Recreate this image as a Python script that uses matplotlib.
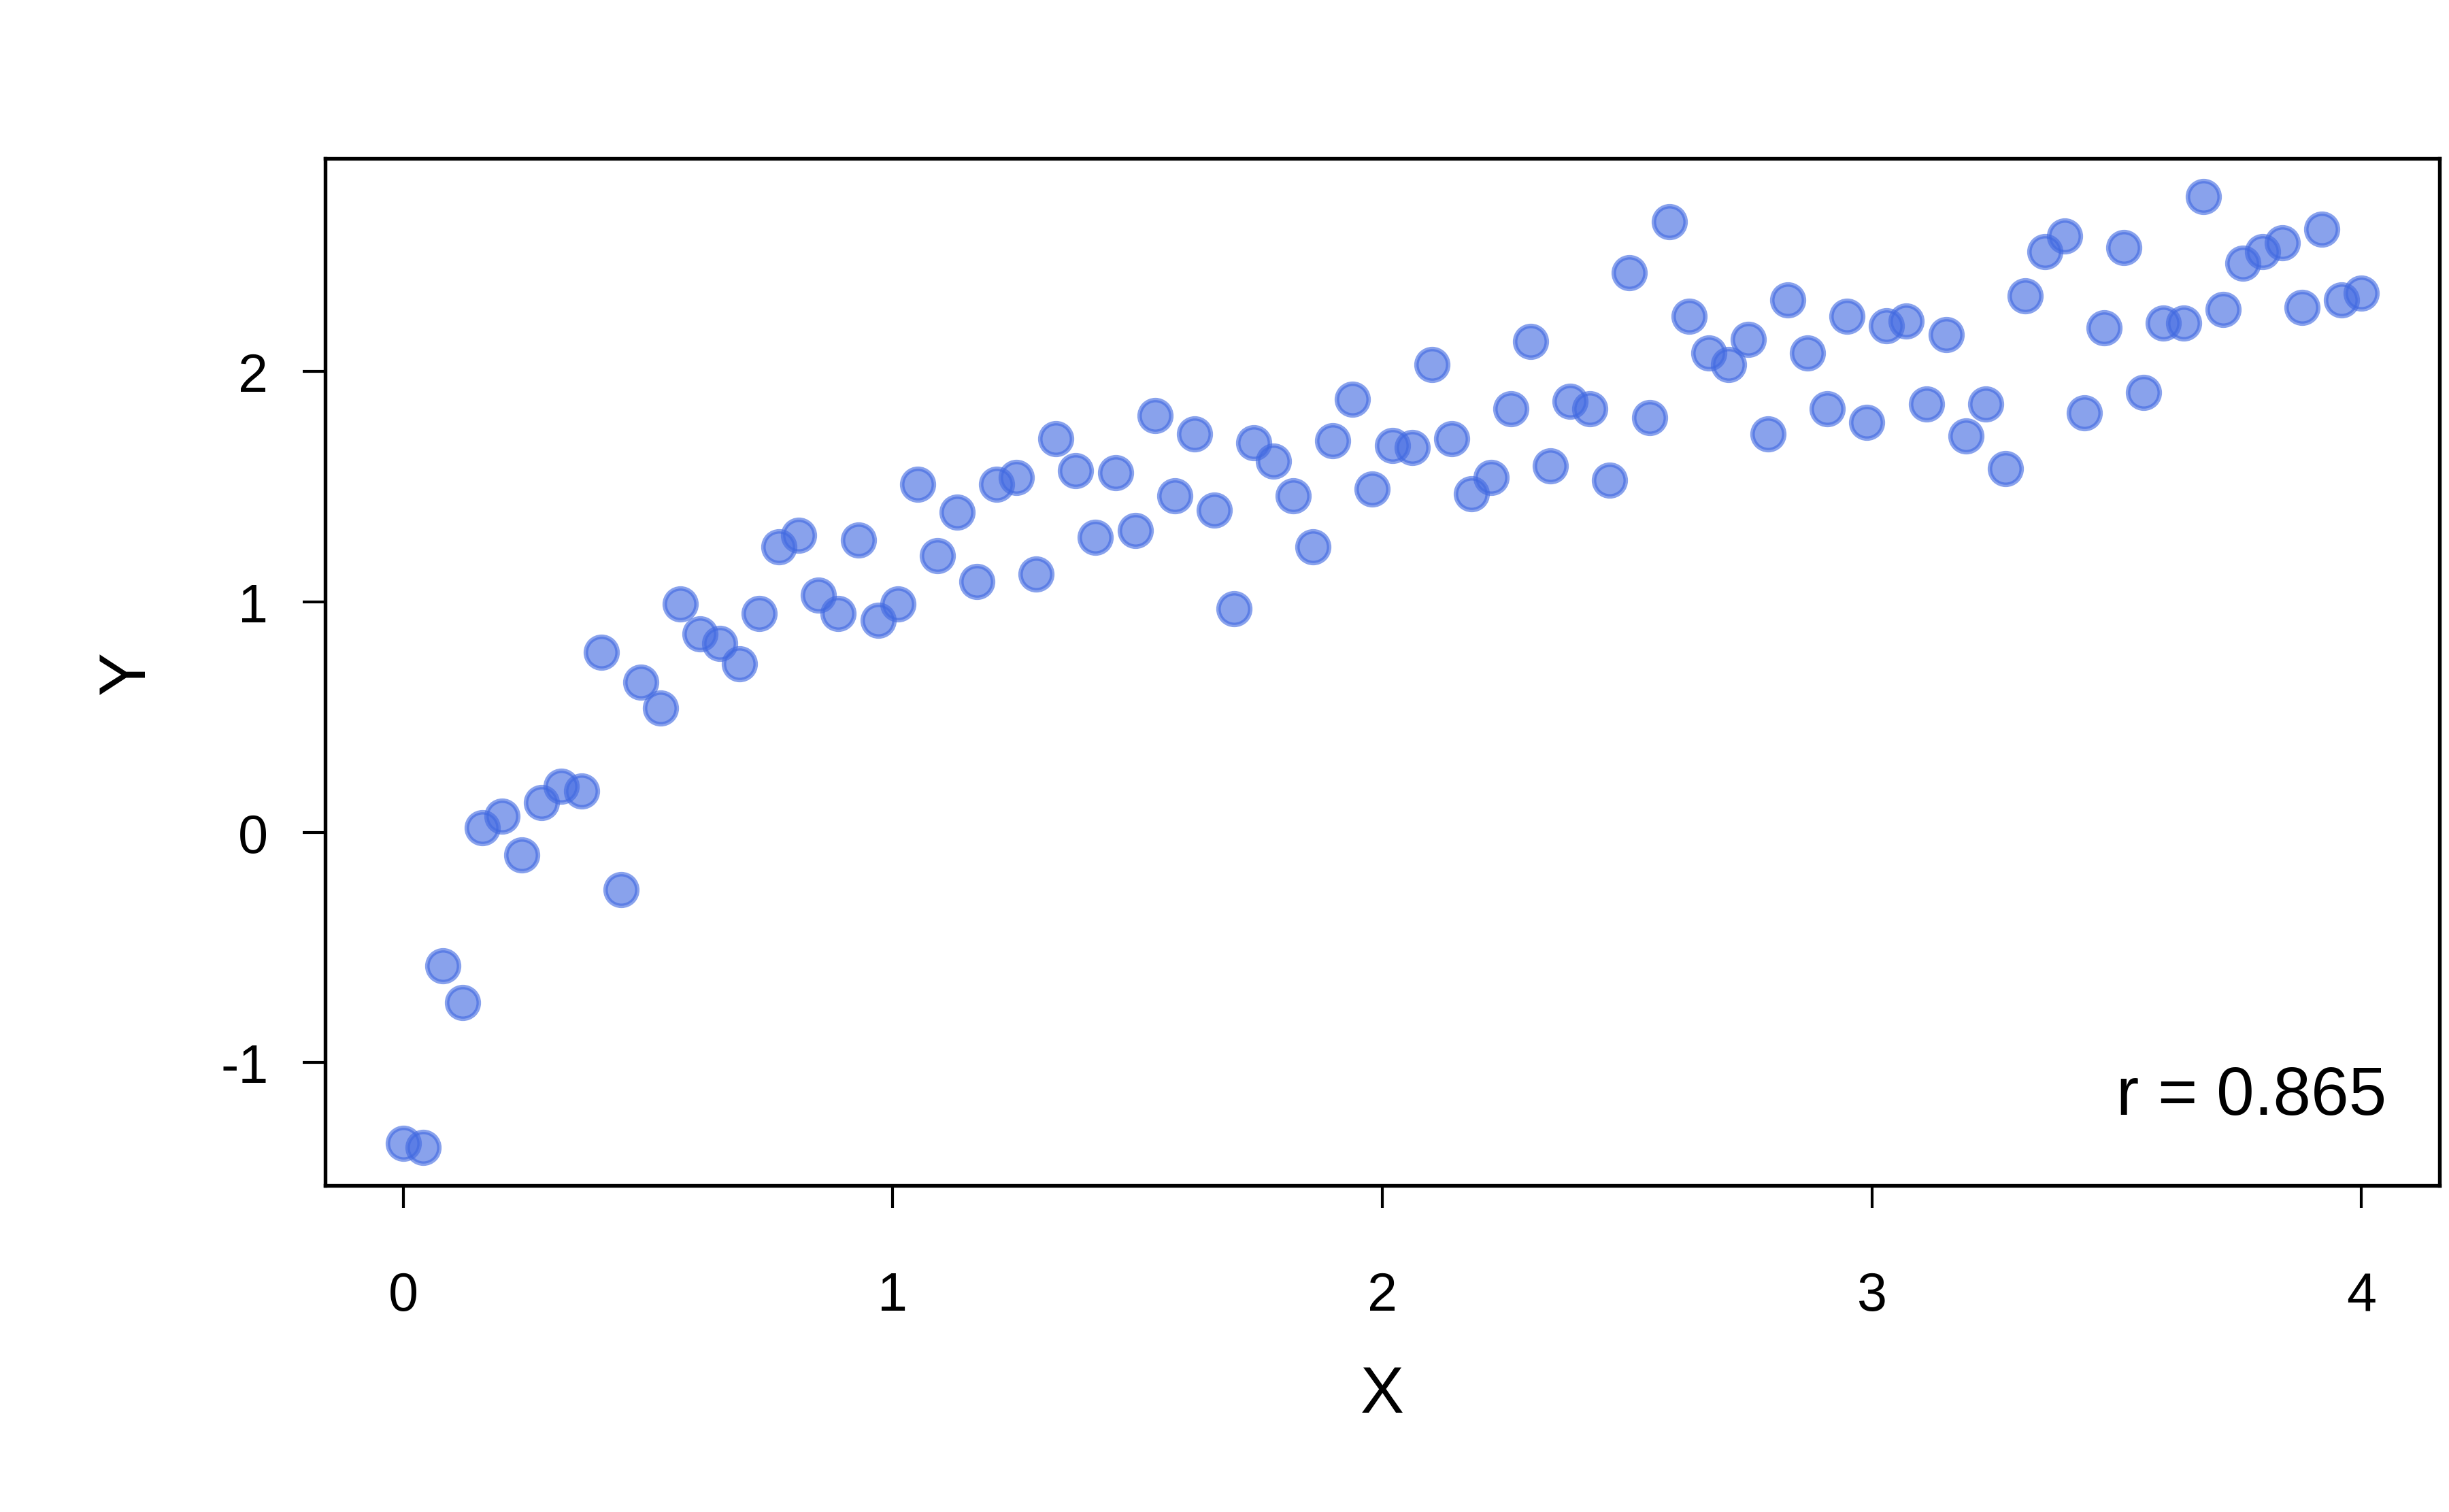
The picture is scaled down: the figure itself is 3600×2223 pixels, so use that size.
import numpy as np
import matplotlib
matplotlib.use('Agg')
import matplotlib.pyplot as plt

plt.rcParams['font.family'] = ['Liberation Sans', 'DejaVu Sans']

# 100 evenly spaced x values from 0 to 4, y
x = np.linspace(0, 4, 100)
y = [-1.35, -1.37, -0.58, -0.74, 0.02, 0.07, -0.10, 0.13, 0.20, 0.18,
     0.78, -0.25, 0.65, 0.54, 0.99, 0.86, 0.82, 0.73, 0.95, 1.24,
     1.29, 1.03, 0.95, 1.27, 0.92, 0.99, 1.51, 1.20, 1.39, 1.09,
     1.51, 1.54, 1.12, 1.71, 1.57, 1.28, 1.56, 1.31, 1.81, 1.46,
     1.73, 1.40, 0.97, 1.69, 1.61, 1.46, 1.24, 1.70, 1.88, 1.49,
     1.68, 1.67, 2.03, 1.71, 1.47, 1.54, 1.84, 2.13, 1.59, 1.87,
     1.84, 1.53, 2.43, 1.80, 2.65, 2.24, 2.08, 2.03, 2.14, 1.73,
     2.31, 2.08, 1.84, 2.24, 1.78, 2.20, 2.22, 1.86, 2.16, 1.72,
     1.86, 1.58, 2.33, 2.52, 2.59, 1.82, 2.19, 2.54, 1.91, 2.21,
     2.21, 2.76, 2.27, 2.47, 2.52, 2.56, 2.28, 2.62, 2.31, 2.34]
xticks = [0, 1, 2, 3, 4]
yticks = [-1, 0, 1, 2]
r_label = 'r = 0.865'

fig = plt.figure(figsize=(12, 7.4133), dpi=300)
ax = fig.add_axes([0.1327, 0.2157, 0.8635, 0.679])

ax.scatter(x, y, s=125, color='royalblue', alpha=0.62,
           edgecolors='royalblue', linewidths=1.6, zorder=3)

# R style 4% padding
xr = 4 * 0.04
yr = (max(y) - min(y)) * 0.04
ax.set_xlim(0 - xr, 4 + xr)
ax.set_ylim(min(y) - yr, max(y) + yr)

ax.set_xticks(xticks)
ax.set_yticks(yticks)
ax.set_xticklabels([str(t) for t in xticks])
ax.set_yticklabels([str(t) for t in yticks])
ax.tick_params(direction='out', length=8, width=1.0, labelsize=19,
               color='black')
ax.tick_params(axis='x', pad=22)
ax.tick_params(axis='y', pad=12)

for s in ax.spines.values():
    s.set_linewidth(1.3)
    s.set_color('black')

ax.set_xlabel('X', fontsize=23, labelpad=15)
ax.set_ylabel('Y', fontsize=23, labelpad=22)

ax.text(0.975, 0.087, r_label, transform=ax.transAxes, ha='right',
        va='center', fontsize=24)

fig.savefig('out.png', dpi=300, facecolor='white')
